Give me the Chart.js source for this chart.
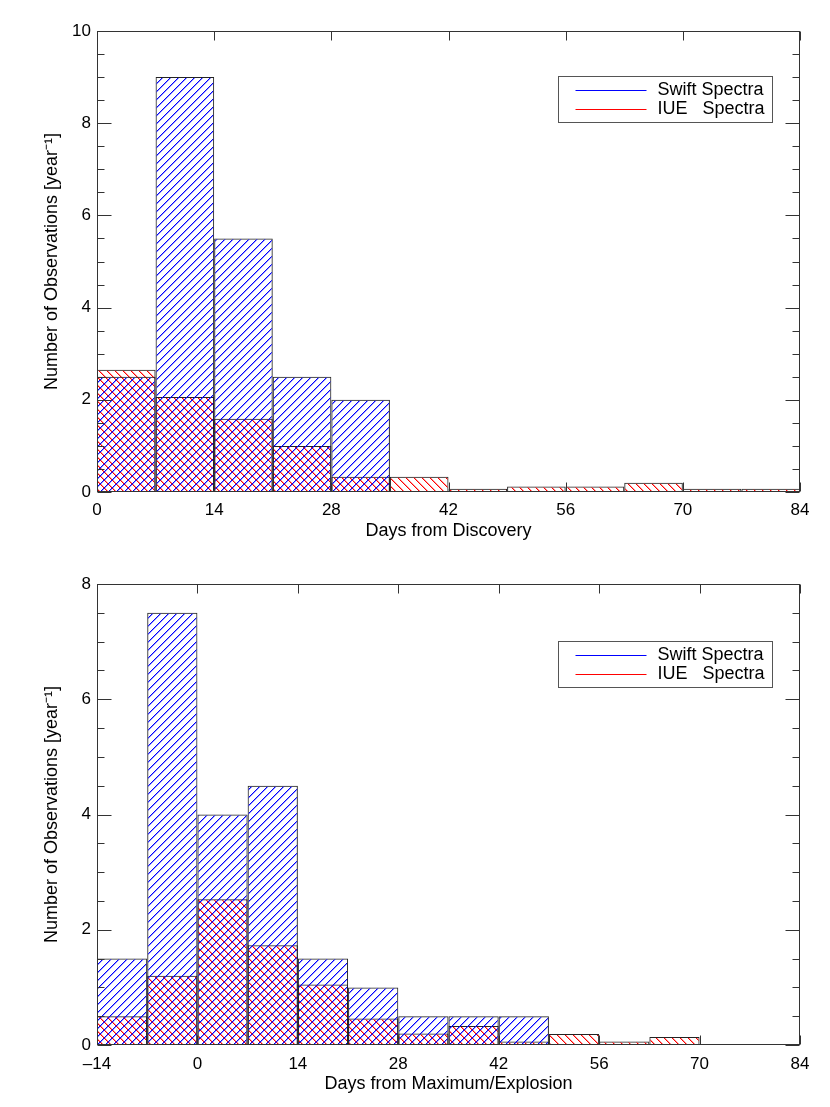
<!DOCTYPE html>
<html>
<head>
<meta charset="utf-8">
<script src="https://cdn.jsdelivr.net/npm/chart.js@4"></script>
<style>
  body { margin: 0; background: #fff; }
  canvas { position: absolute; left: 0; }
  #c1 { top: 0; }
  #c2 { top: 550px; }
</style>
</head>
<body>
<canvas id="c1" width="830" height="550"></canvas>
<canvas id="c2" width="830" height="557"></canvas>
<script>
// histogram bins (start day of each 7-day bin)
const discBins = [0, 7, 14, 21, 28, 35, 42, 49, 56, 63, 70, 77];
const swiftDisc = [2.5, 9.0, 5.5, 2.5, 2.0, 0, 0, 0, 0, 0, 0, 0];
const iueDisc = [2.65, 2.06, 1.59, 1.0, 0.33, 0.33, 0.07, 0.12, 0.12, 0.2, 0.07, 0.07];

const maxBins = [-14, -7, 0, 7, 14, 21, 28, 35, 42, 49, 56, 63, 70, 77];
const swiftMax = [1.5, 7.5, 4.0, 4.5, 1.5, 1.0, 0.5, 0.5, 0.5, 0, 0, 0, 0, 0];
const iueMax = [0.5, 1.2, 2.53, 1.73, 1.05, 0.46, 0.2, 0.33, 0.06, 0.19, 0.06, 0.14, 0, 0];

const binWidth = 7;
const seriesLabels = ['Swift Spectra', 'IUE   Spectra'];
const seriesColors = ['#0000ff', '#ff0000'];
const FONT = "'Liberation Sans', Arial, sans-serif";

// diagonal hatch, 8px repeat: one solid pixel per row plus a soft neighbour
function hatch(color, dir) {
    const c = document.createElement('canvas');
    c.width = c.height = 8;
    const g = c.getContext('2d');
    g.fillStyle = color;
    for (let i = 0; i < 8; i++) {
        const row = dir > 0 ? 7 - i : i;
        g.globalAlpha = 1;
        g.fillRect(i, row, 1, 1);
        g.globalAlpha = 0.4;
        g.fillRect((i + 1) % 8, row, 1, 1);
    }
    return g.createPattern(c, 'repeat');
}

const blueHatch = hatch(seriesColors[0], 1);
const redHatch = hatch(seriesColors[1], -1);

// IDL-style box with inward ticks + legend box
const frame = {
    id: 'frame',
    afterDraw(chart, args, opts) {
        const { ctx, chartArea: a, scales: { x, y } } = chart;
        const L = Math.round(a.left) + 0.5, R = Math.round(a.right) - 0.5;
        const T = Math.round(a.top) + 0.5, B = Math.round(a.bottom) - 0.5;
        ctx.save();
        ctx.strokeStyle = '#333';
        ctx.lineWidth = 1;
        ctx.strokeRect(L, T, R - L, B - T);
        ctx.beginPath();
        for (let v = y.min; v <= y.max + 1e-9; v += 0.5) {
            const py = Math.round(y.getPixelForValue(v)) + 0.5;
            const len = Math.abs(v % 2) < 1e-9 ? 14 : 7;
            ctx.moveTo(L, py); ctx.lineTo(L + len, py);
            ctx.moveTo(R, py); ctx.lineTo(R - len, py);
        }
        for (let v = x.min; v <= x.max + 1e-9; v += 14) {
            const px = Math.round(x.getPixelForValue(v)) + 0.5;
            ctx.moveTo(px, B); ctx.lineTo(px, B - 9);
            ctx.moveTo(px, T); ctx.lineTo(px, T + 9);
        }
        ctx.stroke();

        // legend
        const lx = Math.round(a.right - 242) + 0.5;
        const ly = Math.round(a.top + opts.legendTop) + 0.5;
        ctx.strokeStyle = '#555';
        ctx.strokeRect(lx, ly, 214, 46);
        ctx.font = '18px ' + FONT;
        ctx.textBaseline = 'middle';
        chart.data.datasets.forEach((ds, i) => {
            const yy = ly + 14 + i * 19;
            ctx.fillStyle = seriesColors[i];
            ctx.fillRect(lx + 17, yy - 0.5, 71, 1);
            ctx.fillStyle = '#000';
            ctx.fillText(ds.label, lx + 99, yy);
        });
        ctx.restore();
    }
};

function makeChart(id, bins, swift, iue, cfg) {
    const pts = vals => vals.map((v, i) => ({ x: bins[i] + binWidth / 2, y: v }));
    const barStyle = {
        borderColor: '#222',
        borderWidth: 1,
        borderSkipped: false,
        inflateAmount: 0,
        barPercentage: 1,
        categoryPercentage: 1,
        grouped: false
    };
    return new Chart(document.getElementById(id), {
        type: 'bar',
        data: {
            datasets: [
                Object.assign({ label: seriesLabels[0], data: pts(swift), backgroundColor: blueHatch }, barStyle),
                Object.assign({ label: seriesLabels[1], data: pts(iue), backgroundColor: redHatch }, barStyle)
            ]
        },
        options: {
            responsive: false,
            animation: false,
            layout: { padding: { top: cfg.padTop, right: 30, left: 0, bottom: 0 } },
            plugins: {
                legend: { display: false },
                tooltip: { enabled: false },
                frame: { legendTop: cfg.legendTop }
            },
            scales: {
                x: {
                    type: 'linear',
                    offset: false,
                    min: cfg.xMin, max: 84,
                    grid: { display: false, drawTicks: false },
                    border: { display: false },
                    ticks: {
                        stepSize: 14, maxRotation: 0, padding: cfg.xTickPad,
                        color: '#000', font: { family: FONT, size: 17 },
                        callback: v => v < 0 ? '\u2013' + Math.abs(v) : String(v)
                    },
                    title: {
                        display: true, text: cfg.xTitle, color: '#000',
                        font: { family: FONT, size: 18 },
                        padding: { top: 0, bottom: cfg.xTitlePad }
                    },
                    afterFit: s => { s.height = cfg.xHeight; }
                },
                y: {
                    min: 0, max: cfg.yMax,
                    grid: { display: false, drawTicks: false },
                    border: { display: false },
                    ticks: { stepSize: 2, padding: 6, color: '#000', font: { family: FONT, size: 17 } },
                    title: {
                        display: true, text: 'Number of Observations [year\u207B\u00B9]', color: '#000',
                        font: { family: FONT, size: 18 },
                        padding: { top: 41, bottom: 0 }
                    },
                    afterFit: s => { s.width = 97; }
                }
            }
        },
        plugins: [frame]
    });
}

makeChart('c1', discBins, swiftDisc, iueDisc, {
    xMin: 0, yMax: 10, padTop: 31, xHeight: 58, xTickPad: 8, xTitlePad: 8, legendTop: 45,
    xTitle: 'Days from Discovery'
});
makeChart('c2', maxBins, swiftMax, iueMax, {
    xMin: -14, yMax: 8, padTop: 34, xHeight: 62, xTickPad: 9, xTitlePad: 12, legendTop: 57,
    xTitle: 'Days from Maximum/Explosion'
});
</script>
</body>
</html>
